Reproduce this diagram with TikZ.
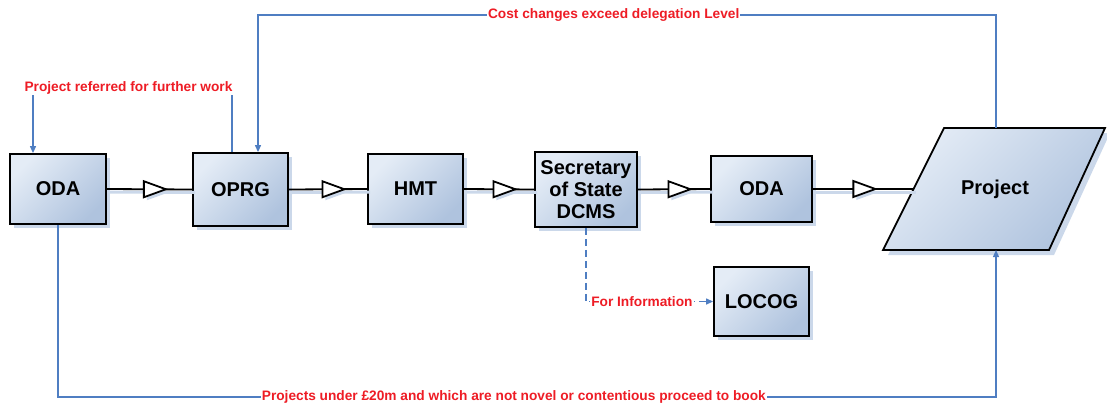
\documentclass[tikz,border=0pt]{standalone}
\usepackage{fontspec}
\setmainfont{Liberation Sans}
\usetikzlibrary{arrows.meta,shapes.geometric,shadows,calc}

\definecolor{boxlight}{HTML}{E4ECF6}
\definecolor{boxdark}{HTML}{AFC3DE}
\definecolor{shadowblue}{HTML}{CBD8EA}
\definecolor{linkblue}{HTML}{4F7EC2}
\definecolor{labelred}{HTML}{EE1C25}

\tikzset{
  procbox/.style={draw=black, line width=1.8pt, inner sep=0pt,
    shading=axis, top color=boxlight, bottom color=boxdark, shading angle=45,
    drop shadow={shadow xshift=4pt, shadow yshift=-4pt, fill=shadowblue, opacity=1},
    font=\bfseries\fontsize{20}{22}\selectfont, align=center},
  flow/.style={draw=black, line width=1.8pt,
    preaction={draw=shadowblue, line width=3pt, transform canvas={shift={(3pt,-3pt)}}}},
  flowtip/.style={isosceles triangle, isosceles triangle stretches, inner sep=0pt,
    minimum height=22pt, minimum width=16pt, draw=black, line width=1.8pt, fill=white,
    drop shadow={shadow xshift=3pt, shadow yshift=-3pt, fill=shadowblue, opacity=1}},
  link/.style={draw=linkblue, line width=1.2pt},
  linktip/.style={-{Triangle[length=7pt,width=6pt]}},
  note/.style={text=labelred, font=\bfseries\fontsize{13.7}{15}\selectfont,
    fill=white, inner sep=1pt}
}

\begin{document}
\begin{tikzpicture}[x=1pt,y=-1pt]
  \useasboundingbox (0,0) rectangle (1107,410);

  % process boxes
  \node[procbox, minimum width=96pt,  minimum height=70pt] (oda1)  at (58,189)    {ODA};
  \node[procbox, minimum width=95pt,  minimum height=73pt] (oprg)  at (240.5,189.5) {OPRG};
  \node[procbox, minimum width=95pt,  minimum height=70pt] (hmt)   at (415.5,189) {HMT};
  \node[procbox, minimum width=102pt, minimum height=75pt] (sos)   at (586,189.5) {Secretary\\of State\\DCMS};
  \node[procbox, minimum width=101pt, minimum height=66pt] (oda2)  at (761.5,189) {ODA};
  \node[procbox, minimum width=95pt,  minimum height=69pt] (locog) at (761.5,301.5) {LOCOG};

  % project parallelogram
  \coordinate (pbl) at (883,250);
  \coordinate (pbr) at (1049,250);
  \coordinate (ptr) at (1105,128);
  \coordinate (ptl) at (944,128);
  \fill[shadowblue] ($(pbl)+(5,5)$) -- ($(pbr)+(5,5)$) -- ($(ptr)+(5,5)$) -- ($(ptl)+(5,5)$) -- cycle;
  \path[draw=black, line width=1.8pt, shading=axis, top color=boxlight, bottom color=boxdark, shading angle=45]
    (pbl) -- (pbr) -- (ptr) -- (ptl) -- cycle;
  \node[font=\bfseries\fontsize{20}{22}\selectfont] (proj) at (995,189) {Project};
  \coordinate (projleft) at (913,189);
  \coordinate (projtop) at (996,128);
  \coordinate (projbot) at (996,250);

  % main flow with open arrowheads at midpoints
  \draw[flow] (oda1.east) -- node[flowtip]{} (oprg.west);
  \draw[flow] (oprg.east) -- node[flowtip]{} (hmt.west);
  \draw[flow] (hmt.east)  -- node[flowtip]{} (sos.west);
  \draw[flow] (sos.east)  -- node[flowtip]{} (oda2.west);
  \draw[flow] (oda2.east) -- node[flowtip, pos=0.46]{} (projleft);

  % feedback and side links
  \draw[link, linktip] (projtop) |- (258,15)
    node[note, pos=0.759] {Cost changes exceed delegation Level}
    -- (oprg.north -| 258,0);
  \draw[link, linktip] (oprg.north -| 232,0) -- (232,88) -- (33,88)
    node[note, pos=0.52] {Project referred for further work}
    -- (oda1.north -| 33,0);
  \draw[link, linktip] (oda1.south) |- (996,397)
    node[note, pos=0.743] {Projects under £20m and which are not novel or contentious proceed to book}
    -- (projbot);
  \draw[link, dash pattern=on 7pt off 4pt, linktip] (sos.south) |- (locog.west)
    node[note, pos=0.72] {For Information};
\end{tikzpicture}
\end{document}
